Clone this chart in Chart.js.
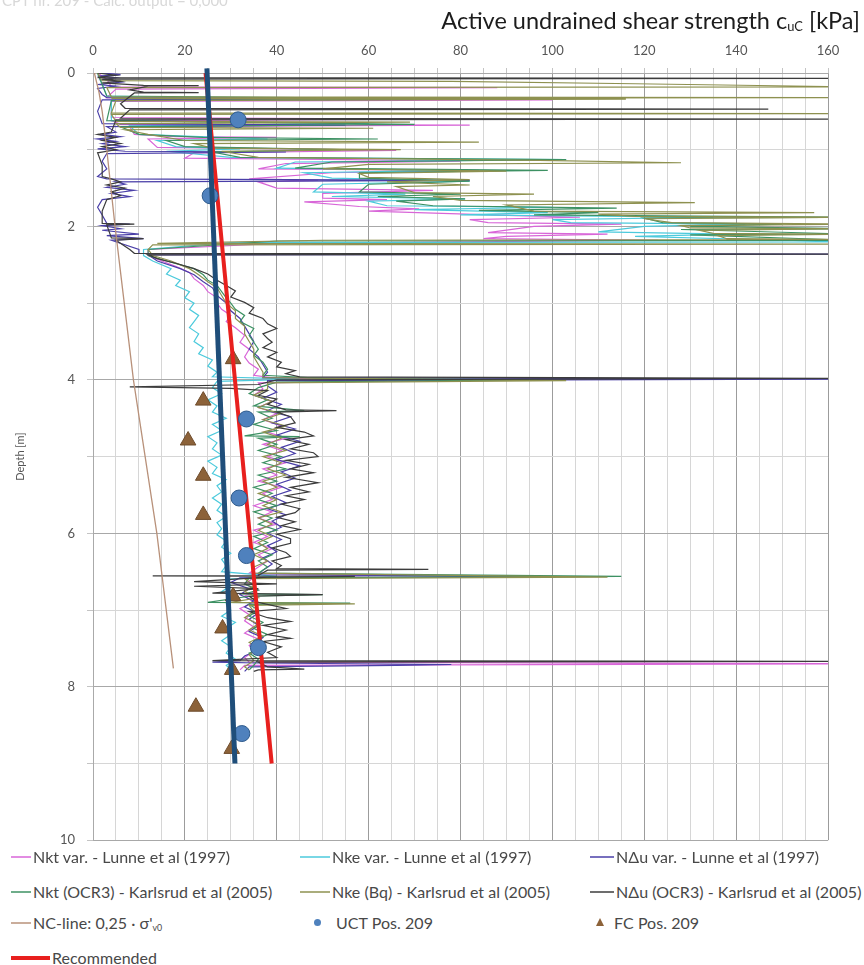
<!DOCTYPE html>
<html>
<head>
<meta charset="utf-8">
<script src="https://cdn.jsdelivr.net/npm/chart.js@4.4.1/dist/chart.umd.min.js"></script>
<style>
  html, body { margin: 0; padding: 0; background: #fff; }
  #wrap { position: relative; width: 864px; height: 965px; overflow: hidden; font-family: Lato, 'Open Sans', sans-serif; }
  #chart { position: absolute; left: 0; top: 0; }
  .faint { position: absolute; left: 2px; top: -9px; font-size: 15px; color: #d8d8d8; white-space: nowrap; }
  .title { position: absolute; right: 4px; top: 6px; font-size: 23.5px; color: #1c1c1c; white-space: nowrap; }
  .title sub, .lg sub { font-size: 55%; vertical-align: -2px; }
  .lg { position: absolute; height: 18px; line-height: 18px; font-size: 16px; letter-spacing: 0.05px; color: #484848; white-space: nowrap; }
  .lg .mk { position: absolute; top: 8px; height: 2px; }
</style>
</head>
<body>
<div id="wrap">
  <canvas id="chart" width="864" height="860"></canvas>
  <div class="faint">CPT nr. 209 - Calc. output = 0,000</div>
  <div class="title">Active undrained shear strength c<sub>uC</sub> [kPa]</div>
  <div id="legend"></div>
</div>
<script>
/* ── data: [depth m, cu kPa] ── */
const nktVar = [
  [0.00, 1], [0.08, 3], [0.18, 4], [0.19, 88], [0.21, 5], [0.32, 3], [0.33, 62], [0.35, 100], [0.37, 4],
  [0.58, 4], [0.60, 72], [0.62, 4], [0.67, 6], [0.68, 82], [0.70, 8],
  [0.80, 9], [0.83, 18], [0.84, 40], [0.86, 12], [0.97, 14], [0.99, 44], [1.01, 66], [1.04, 22],
  [1.11, 20], [1.13, 56], [1.15, 80], [1.18, 42], [1.25, 36], [1.27, 84], [1.30, 52],
  [1.38, 34], [1.40, 49], [1.42, 36], [1.50, 40], [1.53, 74], [1.57, 50],
  [1.63, 50], [1.65, 64], [1.68, 46], [1.74, 58], [1.77, 71], [1.80, 60],
  [1.86, 92], [1.88, 106], [1.91, 82], [1.95, 86], [1.97, 115], [2.00, 96],
  [2.08, 86], [2.10, 112], [2.13, 90], [2.16, 85], [2.18, 123], [2.22, 40], [2.30, 12],
  [2.38, 12], [2.45, 15], [2.52, 18], [2.60, 21], [2.68, 22], [2.77, 24], [2.85, 25], [2.93, 27], [3.00, 27],
  [3.08, 28], [3.16, 30], [3.24, 29], [3.32, 31], [3.42, 33], [3.51, 32], [3.60, 34], [3.70, 33], [3.78, 34], [3.86, 36], [3.94, 35],
  [3.98, 40], [4.00, 82], [4.02, 60], [4.04, 36],
  [4.12, 37], [4.20, 35], [4.28, 39], [4.36, 36], [4.44, 40], [4.52, 37], [4.60, 41], [4.68, 38], [4.76, 42], [4.84, 37], [4.92, 41], [5.00, 38],
  [5.08, 42], [5.16, 37], [5.24, 40], [5.32, 36], [5.40, 41], [5.48, 37], [5.56, 39], [5.64, 35], [5.72, 39], [5.80, 36], [5.88, 40], [5.96, 35],
  [6.04, 38], [6.12, 35], [6.20, 39], [6.28, 36], [6.36, 38], [6.44, 36],
  [6.52, 34], [6.55, 62], [6.58, 35], [6.66, 33], [6.74, 36], [6.82, 33], [6.90, 35], [6.98, 32], [7.06, 34], [7.14, 33],
  [7.22, 35], [7.30, 33], [7.38, 36], [7.46, 34], [7.54, 35], [7.62, 33], [7.68, 34], [7.70, 165], [7.72, 33], [7.78, 32]
];
const nkeVar = [
  [0.00, 1], [0.30, 3], [0.34, 40], [0.36, 4], [0.62, 4], [0.66, 60], [0.69, 8],
  [0.80, 10], [0.86, 38], [0.88, 14], [0.96, 18], [0.99, 32], [1.02, 16],
  [1.10, 30], [1.13, 103], [1.16, 44], [1.24, 40], [1.27, 80], [1.30, 46],
  [1.37, 52], [1.41, 82], [1.45, 50], [1.55, 48], [1.58, 68], [1.61, 52], [1.64, 81], [1.67, 60],
  [1.73, 64], [1.75, 100], [1.78, 70], [1.82, 99], [1.85, 80], [1.88, 135], [1.91, 100],
  [1.95, 104], [1.97, 142], [2.00, 120], [2.07, 110], [2.10, 139], [2.13, 118], [2.18, 150], [2.20, 165], [2.21, 30], [2.30, 11],
  [2.38, 11], [2.45, 13], [2.55, 17], [2.62, 16], [2.70, 19], [2.77, 18], [2.85, 21], [2.93, 20], [3.00, 22], [3.08, 21],
  [3.16, 23], [3.24, 22], [3.32, 21], [3.40, 23], [3.50, 22], [3.58, 24], [3.66, 23], [3.74, 26], [3.82, 25], [3.90, 27], [3.96, 26],
  [3.99, 45], [4.02, 27], [4.10, 26], [4.18, 28], [4.26, 25], [4.34, 27], [4.42, 26], [4.50, 29], [4.58, 26], [4.66, 28], [4.74, 25],
  [4.82, 27], [4.90, 26], [4.98, 28], [5.06, 25], [5.14, 27], [5.22, 26], [5.30, 29], [5.38, 27], [5.46, 28], [5.54, 26], [5.62, 28], [5.70, 27],
  [5.78, 29], [5.86, 27], [5.94, 28], [6.02, 27], [6.10, 29], [6.18, 28], [6.26, 30], [6.34, 28], [6.42, 29], [6.50, 28],
  [6.56, 40], [6.60, 29], [6.68, 30], [6.76, 28], [6.84, 31], [6.92, 29], [7.00, 30], [7.08, 28], [7.16, 31], [7.24, 29],
  [7.32, 30], [7.40, 28], [7.48, 30], [7.56, 29], [7.64, 31], [7.72, 29], [7.78, 30]
];
const nduVar = [
  [0.00, 2], [0.02, 6], [0.04, 1], [0.06, 5], [0.09, 2], [0.12, 6], [0.15, 1], [0.17, 5], [0.20, 1], [0.28, 2],
  [0.32, 3], [0.33, 79], [0.35, 2], [0.50, 1], [0.66, 2], [0.68, 55], [0.70, 3],
  [0.77, 5], [0.80, 2], [0.83, 6], [0.86, 1], [0.89, 5], [0.92, 2], [0.96, 7], [0.99, 1], [1.02, 7], [1.03, 42], [1.05, 3],
  [1.15, 2], [1.25, 3], [1.35, 1], [1.38, 3], [1.40, 82], [1.42, 5], [1.45, 7], [1.49, 3], [1.53, 9], [1.57, 4], [1.61, 8], [1.65, 2],
  [1.75, 1], [1.85, 2], [1.96, 3], [1.97, 8], [1.99, 2], [2.03, 6], [2.05, 2], [2.10, 10], [2.12, 3], [2.16, 11], [2.18, 4], [2.30, 10],
  [2.35, 10], [2.36, 165], [2.37, 12], [2.45, 14], [2.55, 19], [2.63, 22], [2.72, 24], [2.80, 26], [2.90, 27], [3.00, 29], [3.10, 30],
  [3.20, 32], [3.30, 33], [3.40, 34], [3.50, 35], [3.60, 34], [3.70, 36], [3.80, 37], [3.90, 38], [3.97, 37], [3.99, 165], [4.01, 38],
  [4.08, 38], [4.16, 40], [4.24, 37], [4.32, 41], [4.40, 38], [4.48, 43], [4.56, 39], [4.64, 44], [4.72, 40], [4.80, 45], [4.88, 41],
  [4.96, 44], [5.04, 40], [5.12, 45], [5.20, 41], [5.28, 44], [5.36, 40], [5.44, 43], [5.52, 39], [5.60, 42], [5.68, 38], [5.76, 42],
  [5.84, 39], [5.92, 41], [6.00, 38], [6.08, 41], [6.16, 38], [6.24, 40], [6.32, 37], [6.40, 39], [6.48, 37], [6.54, 36], [6.56, 98],
  [6.58, 32], [6.64, 30], [6.72, 34], [6.80, 32], [6.88, 35], [6.96, 33], [7.04, 36], [7.12, 34], [7.20, 36], [7.28, 34], [7.36, 37],
  [7.44, 35], [7.52, 36], [7.60, 33], [7.66, 32], [7.68, 26], [7.69, 36], [7.71, 78], [7.72, 66], [7.74, 34], [7.80, 33]
];
const nktOcr = [
  [0.00, 1], [0.30, 3], [0.34, 86], [0.36, 4], [0.62, 3], [0.67, 70], [0.70, 6],
  [0.80, 10], [0.84, 24], [0.86, 62], [0.88, 16], [0.96, 20], [1.00, 54], [1.03, 26],
  [1.10, 32], [1.13, 103], [1.16, 52], [1.24, 44], [1.27, 99], [1.30, 58], [1.37, 58], [1.41, 82], [1.45, 60],
  [1.55, 58], [1.58, 80], [1.61, 62], [1.64, 81], [1.67, 66], [1.73, 74], [1.76, 114], [1.79, 84], [1.82, 110], [1.85, 96],
  [1.88, 165], [1.89, 120], [1.95, 124], [1.97, 150], [2.00, 130], [2.03, 165], [2.04, 128], [2.10, 165], [2.11, 130],
  [2.18, 165], [2.19, 40], [2.30, 12],
  [2.38, 12], [2.45, 16], [2.55, 22], [2.63, 24], [2.70, 25], [2.77, 27], [2.85, 28], [2.93, 29], [3.00, 30], [3.08, 31], [3.16, 33], [3.24, 32],
  [3.33, 35], [3.42, 34], [3.51, 35], [3.60, 36], [3.68, 35], [3.77, 37], [3.86, 38], [3.94, 37], [3.98, 50], [4.00, 97], [4.03, 40],
  [4.10, 36], [4.18, 34], [4.26, 38], [4.34, 35], [4.40, 46], [4.42, 36], [4.50, 39], [4.58, 35], [4.66, 40], [4.73, 33], [4.74, 45],
  [4.76, 36], [4.84, 40], [4.92, 36], [5.00, 41], [5.08, 37], [5.16, 42], [5.24, 36], [5.32, 40], [5.40, 35], [5.48, 39], [5.56, 36],
  [5.64, 40], [5.72, 35], [5.80, 39], [5.88, 36], [5.96, 40], [6.04, 35], [6.12, 38], [6.20, 35], [6.28, 39], [6.36, 36], [6.44, 38],
  [6.52, 36], [6.56, 115], [6.58, 34], [6.66, 33], [6.74, 36], [6.79, 33], [6.80, 50], [6.82, 34], [6.90, 25], [6.91, 56], [6.93, 34],
  [7.00, 36], [7.08, 34], [7.16, 37], [7.24, 35], [7.32, 38], [7.40, 35], [7.48, 37], [7.56, 34], [7.64, 36], [7.72, 35], [7.78, 34]
];
const nkeBq = [
  [0.00, 1], [0.10, 2], [0.11, 78], [0.14, 118], [0.18, 165], [0.19, 3],
  [0.31, 4], [0.32, 165], [0.33, 4], [0.34, 116], [0.36, 5],
  [0.52, 4], [0.53, 165], [0.54, 4], [0.63, 5], [0.64, 69], [0.66, 5], [0.71, 6], [0.72, 61], [0.74, 7],
  [0.80, 12], [0.88, 20], [0.90, 84], [0.92, 22], [0.98, 26], [1.00, 67], [1.02, 28],
  [1.10, 36], [1.14, 97], [1.17, 128], [1.19, 60], [1.25, 50], [1.28, 90], [1.31, 58],
  [1.36, 60], [1.39, 82], [1.42, 64], [1.46, 82], [1.48, 66], [1.56, 70], [1.58, 96], [1.61, 74],
  [1.66, 80], [1.69, 131], [1.72, 90], [1.80, 96], [1.82, 157], [1.84, 110], [1.87, 118], [1.88, 165], [1.90, 120],
  [1.95, 126], [1.97, 165], [1.99, 128], [2.02, 130], [2.03, 165], [2.05, 132], [2.09, 135], [2.10, 165], [2.12, 136],
  [2.16, 138], [2.17, 165], [2.18, 50], [2.22, 14], [2.23, 165], [2.24, 13], [2.30, 12],
  [2.38, 13], [2.45, 17], [2.55, 21], [2.63, 23], [2.72, 25], [2.80, 27], [2.90, 28], [3.00, 29], [3.10, 31], [3.20, 31], [3.30, 33],
  [3.40, 33], [3.50, 34], [3.60, 35], [3.70, 35], [3.80, 36], [3.90, 37], [3.97, 37], [3.99, 70], [4.01, 103], [4.04, 38],
  [4.12, 38], [4.20, 35], [4.28, 39], [4.36, 36], [4.44, 41], [4.52, 37], [4.60, 42], [4.68, 37], [4.76, 41], [4.84, 38], [4.92, 42],
  [5.00, 37], [5.08, 41], [5.16, 38], [5.24, 42], [5.32, 37], [5.40, 40], [5.48, 36], [5.56, 40], [5.64, 37], [5.72, 41], [5.80, 36],
  [5.88, 39], [5.96, 36], [6.04, 39], [6.12, 36], [6.20, 38], [6.28, 35], [6.36, 38], [6.44, 35], [6.52, 35], [6.57, 112], [6.59, 33],
  [6.68, 35], [6.76, 33], [6.84, 36], [6.90, 30], [6.92, 57], [6.94, 34], [7.02, 35], [7.10, 33], [7.18, 36], [7.26, 34], [7.34, 37],
  [7.42, 34], [7.50, 36], [7.58, 34], [7.66, 35], [7.74, 33], [7.78, 34]
];
const nduOcr = [
  [0.00, 1], [0.03, 5], [0.05, 2], [0.06, 1], [0.07, 165], [0.08, 2], [0.11, 6], [0.13, 2], [0.16, 11], [0.165, 23], [0.17, 12],
  [0.22, 8], [0.25, 11], [0.255, 23], [0.26, 9], [0.40, 6], [0.46, 7], [0.47, 147], [0.48, 8], [0.59, 6], [0.60, 165], [0.61, 5],
  [0.77, 4], [0.80, 1], [0.84, 5], [0.88, 2], [0.92, 6], [0.96, 2], [1.00, 5], [1.04, 1],
  [1.20, 2], [1.35, 2], [1.38, 4], [1.42, 6], [1.46, 3], [1.50, 7], [1.55, 4], [1.60, 6], [1.65, 3], [1.80, 2],
  [1.96, 2], [1.97, 9], [1.98, 3], [2.15, 4], [2.16, 11], [2.18, 5], [2.30, 8],
  [2.35, 9], [2.36, 165], [2.37, 12], [2.42, 14], [2.48, 18], [2.55, 22], [2.62, 25], [2.70, 27], [2.77, 29], [2.84, 31], [2.92, 30],
  [2.99, 33], [3.06, 35], [3.13, 34], [3.20, 37], [3.27, 38], [3.33, 40], [3.40, 37], [3.46, 38], [3.51, 39], [3.58, 37], [3.64, 40],
  [3.70, 38], [3.77, 41], [3.83, 40], [3.88, 44], [3.92, 42], [3.96, 45], [3.98, 165], [4.00, 40],
  [4.06, 36], [4.09, 8], [4.11, 30], [4.14, 38], [4.20, 36], [4.25, 40], [4.32, 38], [4.39, 42], [4.40, 53], [4.42, 40], [4.48, 43],
  [4.56, 44], [4.62, 40], [4.68, 46], [4.73, 48], [4.78, 42], [4.84, 47], [4.90, 43], [4.95, 48], [5.00, 49], [5.05, 42], [5.10, 47],
  [5.16, 43], [5.21, 48], [5.27, 42], [5.34, 49], [5.40, 43], [5.46, 47], [5.51, 42], [5.56, 46], [5.62, 41], [5.68, 45], [5.73, 44],
  [5.79, 40], [5.85, 44], [5.90, 41], [5.95, 45], [6.01, 40], [6.07, 43], [6.13, 43], [6.19, 39], [6.25, 42], [6.30, 43], [6.36, 39],
  [6.42, 41], [6.46, 40], [6.47, 73], [6.48, 38], [6.55, 36], [6.555, 13], [6.56, 57], [6.57, 38], [6.63, 22], [6.66, 40], [6.69, 22],
  [6.72, 36], [6.78, 26], [6.80, 50], [6.82, 34], [6.90, 36], [6.98, 42], [7.02, 34], [7.10, 38], [7.15, 43], [7.20, 37], [7.26, 42],
  [7.32, 38], [7.37, 43], [7.41, 37], [7.48, 41], [7.55, 38], [7.62, 40], [7.66, 26], [7.67, 165], [7.68, 36], [7.74, 38], [7.77, 46],
  [7.78, 36], [7.80, 35]
];
const ncLine = [[0, 0.3], [0.25, 1.3], [0.5, 2.0], [1.0, 3.0], [2.0, 4.8], [4.0, 8.8], [6.0, 13.9], [7.76, 17.5]];
const recommended = [[0, 24.5], [9.0, 38.9]];
const blueTrend = [[-0.06, 24.8], [9.0, 30.9]];

const uctDepth = [0.61, 1.60, 4.51, 5.54, 6.29, 7.49, 8.61];
const uctCu    = [31.6, 25.5, 33.4, 31.8, 33.4, 36.0, 32.4];
const fcDepth  = [3.73, 4.27, 4.79, 5.25, 5.76, 6.82, 7.24, 7.78, 8.26, 8.81];
const fcCu     = [30.5, 24.0, 20.7, 24.0, 24.0, 30.5, 28.2, 30.3, 22.4, 30.2];

const FONT = "Lato, 'Open Sans', sans-serif";

function toXY(pairs) {
  return pairs.map(p => ({ x: p[1], y: p[0] }));
}

function cptSet(label, pairs, color, order) {
  return {
    label, data: toXY(pairs), showLine: true, borderColor: color, backgroundColor: color,
    borderWidth: 1.2, pointRadius: 0, order,
  };
}

const cptSeries = [
  cptSet('Nkt var. - Lunne et al (1997)',        nktVar, '#d866d8', 10),
  cptSet('Nke var. - Lunne et al (1997)',        nkeVar, '#4ccadc', 9),
  cptSet('NΔu var. - Lunne et al (1997)',        nduVar, '#4a3fa8', 8),
  cptSet('Nkt (OCR3) - Karlsrud et al (2005)',   nktOcr, '#3d9163', 7),
  cptSet('Nke (Bq) - Karlsrud et al (2005)',     nkeBq,  '#8e9150', 6),
  cptSet('NΔu (OCR3) - Karlsrud et al (2005)',   nduOcr, '#3c3c3c', 5),
];

const datasets = cptSeries.concat([
  { label: 'NC-line', data: toXY(ncLine), showLine: true, borderColor: '#b8917a', borderWidth: 1.3, pointRadius: 0, order: 4 },
  { label: 'FC Pos. 209', data: fcDepth.map((d, i) => ({ x: fcCu[i], y: d })), pointStyle: 'triangle',
    pointRadius: 9, backgroundColor: '#8c6239', borderColor: '#6e4c2c', borderWidth: 1, order: 3 },
  { label: 'Recommended', data: toXY(recommended), showLine: true, borderColor: '#e8201e', borderWidth: 4, pointRadius: 0, order: 2 },
  { label: 'UCT Pos. 209', data: uctDepth.map((d, i) => ({ x: uctCu[i], y: d })), pointStyle: 'circle',
    pointRadius: 8, backgroundColor: '#4f81bd', borderColor: '#2f5b8c', borderWidth: 1, order: 1 },
  { label: '', data: toXY(blueTrend), showLine: true, borderColor: '#1f4e7a', borderWidth: 5, pointRadius: 0, clip: false, order: 0 },
]);

/* ── chart ── */
new Chart(document.getElementById('chart'), {
  type: 'scatter',
  data: { datasets },
  options: {
    responsive: false,
    animation: false,
    devicePixelRatio: 1,
    layout: { padding: { left: 10, right: 36, top: 0, bottom: 6 } },
    plugins: { legend: { display: false }, tooltip: { enabled: false } },
    scales: {
      x: {
        type: 'linear', position: 'top', min: 0, max: 160,
        afterFit: s => { s.height = 73; },
        ticks: {
          stepSize: 5, autoSkip: false, maxRotation: 0, padding: 9, color: '#555',
          font: { family: FONT, size: 13 },
          callback: v => (v % 20 === 0 ? v : ''),
        },
        grid: {
          color: c => (c.tick && c.tick.value % 20 === 0 ? '#9c9c9c' : '#d6d6d6'),
          tickLength: 5, tickColor: '#c4c4c4',
        },
        border: { color: '#aaa' },
      },
      y: {
        type: 'linear', reverse: true, min: 0, max: 10,
        afterFit: s => { s.width = 83; },
        ticks: {
          stepSize: 1, autoSkip: false, padding: 12, color: '#555',
          font: { family: FONT, size: 13 },
          callback: v => (v % 2 === 0 ? v : ''),
        },
        grid: {
          color: c => (c.tick && c.tick.value % 2 === 0 ? '#a8a8a8' : '#d6d6d6'),
          tickLength: 6, tickColor: '#c4c4c4',
        },
        border: { color: '#aaa' },
        title: { display: true, text: 'Depth [m]', color: '#555', font: { family: FONT, size: 11 } },
      },
    },
  },
});

/* ── legend ── */
function renderLegend() {
  const el = document.getElementById('legend');
  const markX = [11, 300, 590];
  const textX = [33, 332, 616];
  const rows = [848, 883, 914, 949];
  const items = cptSeries.map(s => ({ text: s.label, color: s.borderColor, kind: 'line' }));
  items.push({ text: 'NC-line: 0,25 · σ\'<sub>v0</sub>', color: '#b8917a', kind: 'line' });
  items.push({ text: 'UCT Pos. 209', color: '#4f81bd', kind: 'dot' });
  items.push({ text: 'FC Pos. 209', color: '#8c6239', kind: 'tri' });
  items.push({ text: 'Recommended', color: '#e8201e', kind: 'thick' });

  items.forEach((it, i) => {
    const col = i % 3;
    const div = document.createElement('div');
    div.className = 'lg';
    div.style.left = markX[col] + 'px';
    div.style.top = rows[Math.floor(i / 3)] + 'px';
    let mark = '', pad = textX[col] - markX[col];
    if (it.kind === 'line') {
      mark = `<span class="mk" style="left:0;width:${pad - 2}px;background:${it.color};opacity:.75"></span>`;
    } else if (it.kind === 'thick') {
      mark = `<span class="mk" style="left:0;width:39px;height:4px;top:7px;background:${it.color}"></span>`;
      pad = 41;
    } else if (it.kind === 'dot') {
      mark = `<span class="mk" style="left:14px;top:5px;width:7px;height:7px;border-radius:50%;background:${it.color}"></span>`;
      pad = 36;
    } else {
      mark = `<span class="mk" style="left:6px;top:4px;width:0;height:0;background:none;border-left:4px solid transparent;border-right:4px solid transparent;border-bottom:8px solid ${it.color}"></span>`;
      pad = 24;
    }
    div.innerHTML = mark + `<span style="padding-left:${pad}px">${it.text}</span>`;
    el.appendChild(div);
  });
}

renderLegend();
</script>
</body>
</html>
